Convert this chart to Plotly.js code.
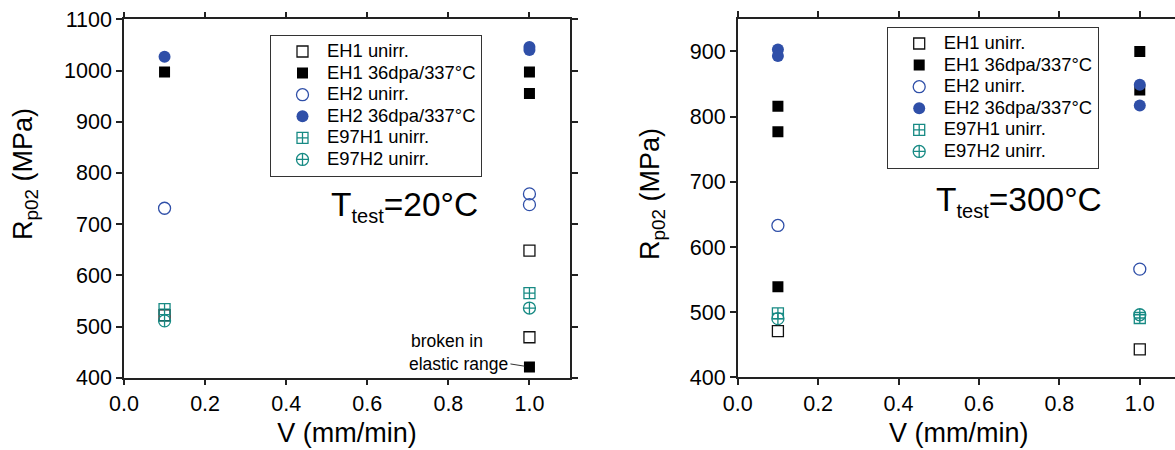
<!DOCTYPE html>
<html>
<head>
<meta charset="utf-8">
<script src="https://cdn.plot.ly/plotly-3.0.1.min.js"></script>
<style>
html, body { margin: 0; padding: 0; overflow: hidden; background: #fff; }
#chart { width: 1185px; height: 450px; }
</style>
</head>
<body>
<div id="chart"></div>
<script>
// ---------- data: T_test = 20 °C (left panel) ----------
const seriesNames = ["EH1 unirr.", "EH1 36dpa/337°C", "EH2 unirr.", "EH2 36dpa/337°C", "E97H1 unirr.", "E97H2 unirr."];

const t20_EH1_unirr_x = [0.1, 1.0, 1.0];
const t20_EH1_unirr_y = [522, 648, 479];
const t20_EH1_irr_x   = [0.1, 1.0, 1.0, 1.0];
const t20_EH1_irr_y   = [997, 997, 955, 421];
const t20_EH2_unirr_x = [0.1, 1.0, 1.0];
const t20_EH2_unirr_y = [731, 759, 738];
const t20_EH2_irr_x   = [0.1, 1.0, 1.0];
const t20_EH2_irr_y   = [1027, 1046, 1040];
const t20_E97H1_x     = [0.1, 1.0];
const t20_E97H1_y     = [534, 565];
const t20_E97H2_x     = [0.1, 1.0];
const t20_E97H2_y     = [511, 536];

// ---------- data: T_test = 300 °C (right panel) ----------
const t300_EH1_unirr_x = [0.1, 1.0];
const t300_EH1_unirr_y = [471, 443];
const t300_EH1_irr_x   = [0.1, 0.1, 0.1, 1.0, 1.0];
const t300_EH1_irr_y   = [816, 777, 539, 900, 841];
const t300_EH2_unirr_x = [0.1, 1.0];
const t300_EH2_unirr_y = [633, 566];
const t300_EH2_irr_x   = [0.1, 0.1, 1.0, 1.0];
const t300_EH2_irr_y   = [903, 893, 849, 817];
const t300_E97H1_x     = [0.1, 1.0];
const t300_E97H1_y     = [498, 491];
const t300_E97H2_x     = [0.1, 1.0];
const t300_E97H2_y     = [490, 496];

// tick values
const xTicks = [0.0, 0.2, 0.4, 0.6, 0.8, 1.0];
const yTicksLeft = [400, 500, 600, 700, 800, 900, 1000, 1100];
const yTicksRight = [400, 500, 600, 700, 800, 900];

// ---------- styles ----------
const FONT = "Liberation Sans, Arial, sans-serif";
const BLUE = "#2f4fa8";
const TEAL = "#178a84";
const styles = [
  {symbol: "square-open", size: 11, color: "#111", lw: 1.3},
  {symbol: "square", size: 11, color: "#000", lw: 0},
  {symbol: "circle-open", size: 12, color: BLUE, lw: 1.3},
  {symbol: "circle", size: 12, color: BLUE, lw: 0},
  {symbol: "square-cross-open", size: 11, color: TEAL, lw: 1.3},
  {symbol: "circle-cross-open", size: 12, color: TEAL, lw: 1.3}
];

function legName(s) {
  return '<span style="font-size:18.4px">' + s + '</span>';
}

function mk(i, x, y, xa, ya, leg) {
  const st = styles[i];
  return {
    type: "scatter", mode: "markers", x: x, y: y,
    xaxis: xa, yaxis: ya, legend: leg,
    name: legName(seriesNames[i]),
    marker: {symbol: st.symbol, size: st.size, color: st.color,
             line: {color: st.color, width: st.lw}},
    hoverinfo: "x+y"
  };
}

const traces = [
  mk(0, t20_EH1_unirr_x, t20_EH1_unirr_y, "x", "y", "legend"),
  mk(1, t20_EH1_irr_x, t20_EH1_irr_y, "x", "y", "legend"),
  mk(2, t20_EH2_unirr_x, t20_EH2_unirr_y, "x", "y", "legend"),
  mk(3, t20_EH2_irr_x, t20_EH2_irr_y, "x", "y", "legend"),
  mk(4, t20_E97H1_x, t20_E97H1_y, "x", "y", "legend"),
  mk(5, t20_E97H2_x, t20_E97H2_y, "x", "y", "legend"),
  mk(0, t300_EH1_unirr_x, t300_EH1_unirr_y, "x2", "y2", "legend2"),
  mk(1, t300_EH1_irr_x, t300_EH1_irr_y, "x2", "y2", "legend2"),
  mk(2, t300_EH2_unirr_x, t300_EH2_unirr_y, "x2", "y2", "legend2"),
  mk(3, t300_EH2_irr_x, t300_EH2_irr_y, "x2", "y2", "legend2"),
  mk(4, t300_E97H1_x, t300_E97H1_y, "x2", "y2", "legend2"),
  mk(5, t300_E97H2_x, t300_E97H2_y, "x2", "y2", "legend2")
];

const W = 1185, H = 450;
const px = v => v / W;          // horizontal pixel -> paper
const py = v => 1 - v / H;      // vertical pixel -> paper

const axisCommon = {
  showgrid: false, zeroline: false, showline: true,
  linecolor: "#222", linewidth: 1.5,
  ticks: "outside", ticklen: 6, tickwidth: 1.5, tickcolor: "#222",
  mirror: "ticks", automargin: false,
  tickfont: {family: FONT, size: 21.5, color: "#000"}
};

const titleFont = {family: FONT, size: 27, color: "#000"};

const layout = {
  width: W, height: H, autosize: false,
  margin: {l: 0, r: 0, t: 0, b: 0},
  paper_bgcolor: "#fff", plot_bgcolor: "#fff",
  showlegend: true,
  font: {family: FONT, color: "#000"},
  xaxis: Object.assign({}, axisCommon, {
    domain: [px(124), px(570)], range: [0, 1.1],
    tickvals: xTicks, tickformat: ".1f", anchor: "y",
    title: {text: "V (mm/min)", font: titleFont, standoff: 8}
  }),
  yaxis: Object.assign({}, axisCommon, {
    domain: [py(377.7), py(19.3)], range: [400, 1100],
    tickvals: yTicksLeft, anchor: "x"
  }),
  xaxis2: Object.assign({}, axisCommon, {
    domain: [px(737.7), px(1180)], range: [0, 1.1],
    tickvals: xTicks, tickformat: ".1f", anchor: "y2",
    title: {text: "V (mm/min)", font: titleFont, standoff: 8}
  }),
  yaxis2: Object.assign({}, axisCommon, {
    domain: [py(377.3), py(18.9)], range: [400, 950],
    tickvals: yTicksRight, anchor: "x2"
  }),
  legend: {
    x: px(270), y: py(34.7), xanchor: "left", yanchor: "top",
    bordercolor: "#333", borderwidth: 1, bgcolor: "#fff",
    font: {family: FONT, size: 14.3, color: "#000"},
    itemwidth: 39, indentation: 7, tracegroupgap: 0
  },
  legend2: {
    x: px(886.7), y: py(26.7), xanchor: "left", yanchor: "top",
    bordercolor: "#333", borderwidth: 1, bgcolor: "#fff",
    font: {family: FONT, size: 14.3, color: "#000"},
    itemwidth: 39, indentation: 7, tracegroupgap: 0
  },
  annotations: [
    {xref: "paper", yref: "paper", x: px(25), y: py(174), textangle: -90,
     text: "R<sub>p02</sub> (MPa)", showarrow: false,
     xanchor: "center", yanchor: "middle", font: titleFont},
    {xref: "paper", yref: "paper", x: px(652), y: py(194), textangle: -90,
     text: "R<sub>p02</sub> (MPa)", showarrow: false,
     xanchor: "center", yanchor: "middle", font: titleFont},
    {xref: "paper", yref: "paper", x: px(404), y: py(206),
     text: "T<sub><span style=\"font-size:20px\">test</span></sub>=20°C", showarrow: false,
     xanchor: "center", yanchor: "middle", font: {family: FONT, size: 33.5, color: "#000"}},
    {xref: "paper", yref: "paper", x: px(1019), y: py(201),
     text: "T<sub><span style=\"font-size:20px\">test</span></sub>=300°C", showarrow: false,
     xanchor: "center", yanchor: "middle", font: {family: FONT, size: 33.5, color: "#000"}},
    {xref: "paper", yref: "paper", x: px(409), y: py(341),
     text: "broken in", showarrow: false, xanchor: "left", yanchor: "middle",
     font: {family: FONT, size: 17.5, color: "#000"}},
    {xref: "x", yref: "y", x: t20_EH1_irr_x[3], y: t20_EH1_irr_y[3],
     text: "elastic range", showarrow: true, arrowhead: 0, arrowwidth: 1,
     arrowcolor: "#333", ax: -19, ay: -3, standoff: 5,
     xanchor: "right", yanchor: "middle",
     font: {family: FONT, size: 17.5, color: "#000"}}
  ]
};

Plotly.newPlot("chart", traces, layout, {displayModeBar: false, staticPlot: false});
</script>
</body>
</html>
